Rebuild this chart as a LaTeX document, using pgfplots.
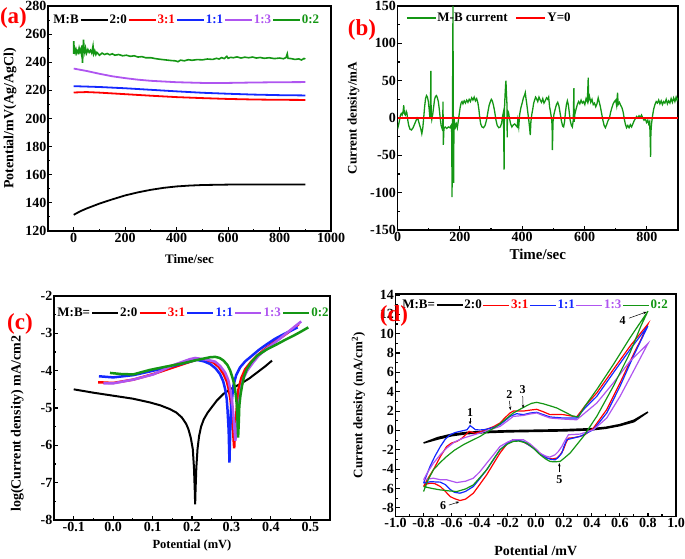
\documentclass[border=0pt]{standalone}
\usepackage{fontspec}
\setmainfont{Liberation Serif}
\usepackage{pgfplots}
\pgfplotsset{compat=1.18}
\usetikzlibrary{arrows.meta}

\definecolor{ored}{RGB}{255,0,0}
\definecolor{oblue}{RGB}{20,40,255}
\definecolor{opurple}{RGB}{175,85,240}
\definecolor{ogreen}{RGB}{20,150,20}

\newcommand{\fnt}[1]{\fontsize{#1}{#1}\selectfont\bfseries}

\pgfplotsset{
  panel/.style={
    scale only axis, anchor=south west,
    axis line style={line width=1.5pt},
    tick align=inside, xtick pos=left, ytick pos=left,
    major tick length=4pt, minor tick length=2.2pt,
    tick style={black, line width=1.1pt},
    tick label style={font=\fnt{14}, inner sep=1.5pt},
    label style={font=\fnt{14}},
    /pgf/number format/assume math mode=true,
    /pgf/number format/1000 sep={},
    legend columns=-1,
    legend style={draw=none, fill=none, anchor=west, inner sep=0pt,
      font=\fnt{13}, nodes={inner sep=1pt},
      /tikz/every even column/.append style={column sep=0pt}},
  },
  fix1/.style={/pgf/number format/.cd, fixed, fixed zerofill, precision=1, 1000 sep={}},
}

\begin{document}
\begin{tikzpicture}
\useasboundingbox (0pt,0pt) rectangle (685pt,558pt);

% ---------------- (a) open circuit potential
\begin{axis}[panel,
  at={(48pt,327pt)}, width=283pt, height=225pt,
  xmin=-100, xmax=1000, ymin=120, ymax=280,
  xtick={0,200,400,600,800,1000}, minor x tick num=1,
  ytick={120,140,...,280}, minor y tick num=1,
  xlabel={Time/sec}, ylabel={Potential/mV(Ag/AgCl)},
  xlabel style={font=\fnt{13}, at={(axis description cs:0.5,-0.124)}, anchor=center},
  ylabel style={at={(axis description cs:-0.134,0.5)}, anchor=center},
  legend image code/.code={\draw[#1] (0pt,0pt) -- (27pt,0pt);},
  legend style={at={(0.015,0.938)}},
]
\addlegendimage{empty legend}\addlegendentry{M:B}
\addplot[black, line width=1.8pt] coordinates {(0,131.5)(25,134)(50,136)(100,139.5)(150,142.5)(200,145.3)(250,147.5)(300,149.3)(350,150.7)(400,151.7)(450,152.3)(500,152.7)(600,153)(700,153.1)(800,153.1)(900,153.1)};
\addlegendentry{2:0}
\addplot[ored, line width=1.8pt] coordinates {(0,218.5)(50,218.8)(100,218.4)(200,217.3)(300,216.2)(400,215.2)(500,214.5)(600,213.9)(700,213.5)(800,213.3)(900,213.2)};
\addlegendentry{\textcolor{ored}{3:1}}
\addplot[oblue, line width=1.8pt] coordinates {(0,223)(100,222.4)(200,221.5)(300,220.4)(400,219.3)(500,218.3)(600,217.6)(700,217)(800,216.6)(900,216.4)};
\addlegendentry{\textcolor{oblue}{1:1}}
\addplot[opurple, line width=1.8pt] coordinates {(0,235.5)(50,233.8)(100,231.8)(150,230)(200,228.7)(250,227.6)(300,226.8)(400,225.8)(500,225.3)(600,225.3)(700,225.6)(800,225.8)(900,225.9)};
\addlegendentry{\textcolor{opurple}{1:3}}
\addplot[ogreen, line width=1.6pt] coordinates {(0,255)(0,246)(3,250)(6,247)(9,249)(12,246.5)(15,248)(18,247)(21,250)(24,247.5)(27,249)(30,246)(32,252)(34,239.5)(36,247)(38,256)(40,250)(43,247)(46,250)(50,246.5)(55,249)(60,247)(65,248.5)(70,246.5)(75,251.5)(78,246)(82,248)(86,245.5)(90,247)(95,246)(100,245)(110,246.5)(120,245.5)(130,246.2)(140,245.3)(150,246)(160,245)(175,245.5)(190,244.6)(205,245)(220,244.2)(235,244.6)(250,243.7)(265,244)(280,243.2)(300,243.2)(320,242.5)(340,242)(360,241.6)(380,241.2)(395,241)(405,240.4)(415,241.5)(430,241)(445,241.8)(460,241.4)(480,241.9)(500,241.7)(520,242.3)(540,242)(555,242.8)(565,242.3)(575,243.3)(585,242.6)(595,244.2)(600,242.8)(610,243.5)(620,243.2)(635,243.8)(650,243)(665,243.6)(680,243.2)(695,243.7)(710,243)(725,243.4)(740,242.8)(760,243.2)(780,242.6)(800,243)(815,242.5)(825,243.3)(830,246)(833,242.8)(845,242.6)(860,242)(875,242.4)(885,241.6)(895,242.7)(900,242.3)};
\addlegendentry{\textcolor{ogreen}{0:2}}
\end{axis}

% ---------------- (b) galvanic current
\begin{axis}[panel,
  at={(397.5pt,328pt)}, width=280.5pt, height=224pt,
  xmin=0, xmax=900, ymin=-150, ymax=150,
  xtick={0,200,400,600,800}, minor x tick num=1,
  ytick={-150,-100,...,150}, minor y tick num=1,
  xlabel={Time/sec}, ylabel={Current density/mA},
  xlabel style={font=\fnt{15}, at={(axis description cs:0.5,-0.107)}, anchor=center},
  ylabel style={font=\fnt{13}, at={(axis description cs:-0.157,0.5)}, anchor=center},
  legend image code/.code={\draw[#1] (0pt,0pt) -- (29pt,0pt);},
  legend style={at={(0.03,0.946)}, /tikz/every even column/.append style={column sep=7pt}},
]
\addplot[ogreen, line width=1.3pt] coordinates {(0,-15)(3,-10)(6,-4)(9,3)(12,6)(15,4)(18,9)(20,17)(22,6)(25,4)(28,9)(30,7)(33,-3)(36,-10)(40,-15)(45,-16)(50,-13)(55,-8)(60,-3)(63,0)(66,-2)(70,-8)(75,-15)(78,-21)(81,-14)(84,0)(87,15)(90,26)(93,30)(96,28)(99,22)(102,10)(104,0)(106,20)(107,63)(108,5)(110,-2)(113,5)(116,15)(119,25)(122,29)(125,30)(128,27)(131,22)(134,12)(137,0)(140,-10)(143,-14)(145,-10)(146,22)(147,-36)(149,-14)(153,-12)(158,-14)(163,-12)(168,-13)(172,-10)(174,-20)(175,-106)(176,-30)(177,62)(178,150)(179,-10)(180,-87)(181,-20)(183,-5)(186,-12)(189,-8)(192,-13)(195,-4)(198,5)(201,14)(204,20)(207,22)(210,19)(214,23)(218,20)(222,24)(226,21)(230,25)(234,22)(238,27)(242,24)(246,28)(250,23)(254,26)(258,20)(261,12)(264,0)(267,-8)(271,-12)(276,-13)(281,-10)(286,-2)(290,8)(294,17)(298,22)(301,25)(304,23)(308,17)(312,8)(316,-3)(320,-10)(325,-13)(330,-12)(334,-7)(337,2)(340,8)(342,-69)(343,10)(345,30)(347,45)(348,50)(349,38)(351,20)(352,-26)(353,10)(356,8)(359,0)(363,-8)(367,-12)(372,-9)(376,-8)(380,-10)(384,-12)(386,-3)(389,-12)(392,5)(396,14)(400,20)(404,27)(408,31)(410,34)(412,27)(415,18)(418,8)(421,-2)(424,-14)(426,-23)(428,-5)(431,5)(434,12)(437,20)(440,24)(443,28)(446,26)(450,22)(454,28)(458,24)(462,21)(466,26)(470,20)(474,23)(478,27)(482,25)(485,28)(488,15)(491,8)(494,0)(496,-10)(497,-43)(499,-5)(502,5)(506,12)(510,18)(514,21)(518,16)(522,6)(526,-4)(530,-11)(533,-12)(536,-5)(539,8)(542,18)(545,23)(548,18)(551,8)(554,-3)(558,-10)(561,-12)(564,-3)(566,40)(567,-5)(569,5)(573,12)(577,18)(581,22)(585,19)(589,24)(593,20)(597,22)(601,18)(605,26)(609,22)(612,54)(613,24)(616,29)(620,21)(624,25)(628,18)(632,20)(636,15)(640,19)(644,27)(647,22)(651,15)(655,6)(659,-3)(663,-10)(667,-13)(671,-9)(675,-4)(680,0)(684,8)(688,14)(692,19)(696,22)(700,24)(703,17)(706,34)(708,18)(712,21)(716,17)(720,14)(724,8)(728,-2)(731,-8)(735,-13)(739,-10)(743,-13)(747,-9)(751,-12)(755,-8)(759,-4)(763,-1)(767,2)(771,0)(775,3)(779,1)(783,4)(787,0)(791,-3)(795,-1)(799,-6)(803,-3)(806,-8)(809,-5)(811,-30)(812,-52)(813,-20)(815,-8)(818,2)(822,12)(826,18)(830,22)(834,20)(838,24)(842,19)(846,23)(850,18)(854,22)(858,20)(862,25)(866,19)(870,23)(874,20)(878,26)(882,21)(886,27)(890,22)(894,28)(897,24)(900,27)};
\addlegendentry{M-B current}
\addplot[ored, line width=1.8pt] coordinates {(0,0)(900,0)};
\addlegendentry{Y=0}
\end{axis}

% ---------------- (c) Tafel
\begin{axis}[panel,
  at={(54pt,38pt)}, width=276pt, height=224pt,
  xmin=-0.15, xmax=0.55, ymin=-8, ymax=-2,
  xtick={-0.1,0,0.1,0.2,0.3,0.4,0.5}, minor x tick num=1,
  ytick={-8,-7,...,-2}, minor y tick num=1,
  xticklabel style={fix1},
  xlabel={Potential (mV)}, ylabel={log(Current density) mA/cm2},
  xlabel style={font=\fnt{12.5}, at={(axis description cs:0.5,-0.116)}, anchor=center},
  ylabel style={font=\fnt{14}, at={(axis description cs:-0.133,0.43)}, anchor=center},
  legend image code/.code={\draw[#1] (0pt,0pt) -- (26pt,0pt);},
  legend style={at={(0.008,0.924)}},
]
\addlegendimage{empty legend}\addlegendentry{M:B=}
\addplot[black, line width=2pt] coordinates {(-0.1,-4.5)(-0.05,-4.59)(0.0,-4.67)(0.05,-4.75)(0.093,-4.85)(0.12,-4.93)(0.144,-5.03)(0.16,-5.12)(0.174,-5.25)(0.185,-5.42)(0.191,-5.57)(0.197,-5.8)(0.202,-6.1)(0.205,-6.6)(0.207,-7.2)(0.208,-7.58)(0.209,-7.2)(0.211,-6.6)(0.214,-6.1)(0.218,-5.75)(0.223,-5.5)(0.23,-5.3)(0.24,-5.12)(0.25,-4.98)(0.263,-4.8)(0.28,-4.62)(0.3,-4.48)(0.322,-4.36)(0.345,-4.21)(0.365,-4.05)(0.385,-3.89)(0.403,-3.73)};
\addlegendentry{2:0}
\addplot[ored, line width=2.5pt] coordinates {(-0.038,-4.31)(0.0,-4.33)(0.051,-4.24)(0.102,-4.09)(0.153,-3.91)(0.204,-3.73)(0.216,-3.69)(0.235,-3.71)(0.254,-3.78)(0.268,-3.9)(0.28,-4.09)(0.288,-4.28)(0.293,-4.49)(0.298,-4.8)(0.301,-5.21)(0.304,-5.6)(0.307,-6.08)(0.309,-5.6)(0.312,-5.21)(0.315,-4.8)(0.318,-4.49)(0.325,-4.2)(0.335,-3.96)(0.35,-3.76)(0.365,-3.6)(0.385,-3.42)(0.407,-3.24)(0.43,-3.08)(0.45,-2.93)(0.471,-2.75)};
\addlegendentry{\textcolor{ored}{3:1}}
\addplot[oblue, line width=2.5pt] coordinates {(-0.036,-4.15)(0.0,-4.18)(0.051,-4.12)(0.102,-4.0)(0.153,-3.87)(0.204,-3.73)(0.212,-3.71)(0.23,-3.75)(0.246,-3.82)(0.26,-3.94)(0.271,-4.09)(0.279,-4.28)(0.284,-4.49)(0.288,-4.75)(0.29,-5.03)(0.293,-5.6)(0.295,-6.46)(0.297,-5.6)(0.299,-5.03)(0.302,-4.7)(0.305,-4.4)(0.312,-4.12)(0.322,-3.91)(0.335,-3.75)(0.352,-3.6)(0.37,-3.44)(0.39,-3.29)(0.41,-3.15)(0.433,-3.02)(0.468,-2.84)};
\addlegendentry{\textcolor{oblue}{1:1}}
\addplot[opurple, line width=2.5pt] coordinates {(-0.025,-4.34)(0.0,-4.34)(0.051,-4.24)(0.102,-4.1)(0.153,-3.85)(0.195,-3.69)(0.208,-3.66)(0.22,-3.68)(0.24,-3.71)(0.259,-3.76)(0.272,-3.88)(0.284,-4.05)(0.292,-4.25)(0.297,-4.49)(0.302,-4.85)(0.305,-5.2)(0.31,-5.88)(0.313,-5.5)(0.316,-5.21)(0.32,-4.8)(0.324,-4.49)(0.33,-4.22)(0.34,-4.0)(0.355,-3.78)(0.369,-3.6)(0.39,-3.4)(0.416,-3.2)(0.437,-3.02)(0.458,-2.84)(0.477,-2.68)};
\addlegendentry{\textcolor{opurple}{1:3}}
\addplot[ogreen, line width=2.5pt] coordinates {(-0.008,-4.06)(0.02,-4.09)(0.051,-4.1)(0.093,-3.98)(0.13,-3.9)(0.178,-3.8)(0.21,-3.72)(0.246,-3.64)(0.259,-3.63)(0.27,-3.66)(0.28,-3.73)(0.29,-3.85)(0.297,-4.0)(0.303,-4.2)(0.308,-4.4)(0.311,-4.65)(0.314,-4.94)(0.317,-5.79)(0.319,-5.3)(0.32,-4.94)(0.323,-4.65)(0.327,-4.4)(0.332,-4.15)(0.339,-3.96)(0.35,-3.78)(0.365,-3.6)(0.39,-3.43)(0.416,-3.29)(0.437,-3.17)(0.458,-3.06)(0.477,-2.95)(0.495,-2.84)};
\addlegendentry{\textcolor{ogreen}{0:2}}
\end{axis}

% ---------------- (d) cyclic voltammetry
\begin{axis}[panel,
  at={(395.5pt,41.5pt)}, width=280.5pt, height=222.5pt,
  xmin=-1, xmax=1, ymin=-8.9, ymax=14.1,
  xtick={-1,-0.8,-0.6,-0.4,-0.2,0,0.2,0.4,0.6,0.8,1}, minor x tick num=1,
  ytick={-8,-6,...,14}, minor y tick num=1,
  xticklabel style={fix1},
  xlabel={Potential /mV}, ylabel={Current density (mA/cm$^{\mathbf{2}}$)},
  xlabel style={at={(axis description cs:0.5,-0.152)}, anchor=center},
  ylabel style={font=\fnt{13}, at={(axis description cs:-0.132,0.5)}, anchor=center},
  legend image code/.code={\draw[#1] (0pt,0pt) -- (26pt,0pt);},
  legend style={at={(0.02,0.95)}},
]
\addlegendimage{empty legend}\addlegendentry{M:B=}
\addplot[black, line width=1.5pt] coordinates {(-0.8,-1.3)(-0.7,-0.75)(-0.6,-0.4)(-0.5,-0.22)(-0.4,-0.12)(-0.2,-0.03)(0,0.02)(0.2,0.07)(0.4,0.18)(0.5,0.32)(0.6,0.6)(0.7,1.05)(0.8,1.9)(0.7,0.9)(0.6,0.5)(0.5,0.22)(0.4,0.06)(0.2,-0.05)(0,-0.1)(-0.2,-0.15)(-0.4,-0.25)(-0.5,-0.35)(-0.6,-0.55)(-0.7,-0.9)(-0.8,-1.3)};
\addlegendentry{2:0}
\addplot[ored, line width=1.2pt] coordinates {(-0.8,-5.8)(-0.77,-5.0)(-0.73,-4.07)(-0.68,-2.7)(-0.635,-1.66)(-0.6,-1.3)(-0.563,-1.14)(-0.53,-0.85)(-0.5,-0.45)(-0.476,-0.1)(-0.455,-0.2)(-0.43,-0.3)(-0.4,-0.15)(-0.37,0.0)(-0.3,0.4)(-0.255,0.76)(-0.22,1.3)(-0.183,1.8)(-0.16,2.0)(-0.136,2.0)(-0.088,2.0)(-0.04,2.1)(0.007,2.18)(0.05,1.95)(0.102,1.63)(0.15,1.65)(0.197,1.63)(0.25,1.5)(0.292,1.4)(0.35,2.5)(0.435,3.87)(0.553,6.29)(0.672,8.7)(0.8,11.0)(0.75,9.4)(0.696,7.84)(0.601,4.91)(0.506,2.15)(0.411,0.24)(0.35,-0.45)(0.316,-0.62)(0.27,-0.75)(0.233,-0.8)(0.215,-1.3)(0.197,-2.0)(0.175,-2.5)(0.15,-2.86)(0.12,-2.95)(0.079,-2.86)(0.04,-2.5)(0.0,-1.95)(-0.05,-1.5)(-0.088,-1.2)(-0.12,-1.02)(-0.16,-0.96)(-0.2,-1.3)(-0.255,-2.34)(-0.3,-3.4)(-0.35,-4.59)(-0.4,-5.6)(-0.445,-6.49)(-0.5,-7.1)(-0.54,-7.25)(-0.58,-7.05)(-0.61,-6.84)(-0.645,-6.3)(-0.68,-5.8)(-0.72,-5.5)(-0.75,-5.45)(-0.78,-5.55)(-0.8,-5.8)};
\addlegendentry{\textcolor{ored}{3:1}}
\addplot[oblue, line width=1.2pt] coordinates {(-0.8,-5.45)(-0.78,-4.7)(-0.754,-3.73)(-0.72,-2.7)(-0.68,-1.66)(-0.645,-0.9)(-0.61,-0.45)(-0.575,-0.22)(-0.54,-0.1)(-0.49,0.07)(-0.468,0.49)(-0.45,0.3)(-0.43,0.07)(-0.4,0.05)(-0.37,0.07)(-0.3,0.3)(-0.255,0.59)(-0.22,1.0)(-0.183,1.45)(-0.136,1.73)(-0.088,1.63)(-0.04,1.8)(0.007,1.87)(0.05,1.65)(0.102,1.39)(0.197,1.28)(0.292,1.28)(0.35,2.3)(0.435,3.52)(0.553,5.95)(0.672,8.36)(0.8,10.8)(0.75,9.3)(0.696,7.67)(0.601,4.56)(0.506,1.8)(0.411,0.07)(0.316,-0.62)(0.221,-0.96)(0.2,-1.7)(0.186,-2.34)(0.16,-2.8)(0.138,-3.04)(0.11,-3.0)(0.079,-2.86)(0.04,-2.5)(0.007,-2.1)(-0.04,-1.6)(-0.088,-1.14)(-0.16,-0.96)(-0.2,-1.3)(-0.255,-2.0)(-0.3,-3.0)(-0.35,-4.07)(-0.4,-5.0)(-0.445,-5.8)(-0.5,-6.3)(-0.54,-6.49)(-0.58,-6.4)(-0.61,-6.1)(-0.645,-5.6)(-0.68,-5.35)(-0.75,-5.3)(-0.8,-5.45)};
\addlegendentry{\textcolor{oblue}{1:1}}
\addplot[opurple, line width=1.2pt] coordinates {(-0.8,-5.1)(-0.77,-4.3)(-0.73,-3.39)(-0.68,-2.5)(-0.635,-1.83)(-0.58,-1.2)(-0.516,-0.79)(-0.45,-0.5)(-0.397,-0.27)(-0.33,0.05)(-0.255,0.41)(-0.2,1.0)(-0.16,1.45)(-0.12,1.5)(-0.088,1.55)(-0.04,1.7)(0.007,1.8)(0.05,1.55)(0.102,1.28)(0.197,1.17)(0.292,1.1)(0.35,1.8)(0.435,2.83)(0.553,4.91)(0.672,7.15)(0.8,8.98)(0.75,7.6)(0.696,6.11)(0.601,3.52)(0.506,1.28)(0.411,0.07)(0.316,-0.38)(0.233,-0.45)(0.21,-1.0)(0.186,-1.66)(0.16,-2.2)(0.138,-2.52)(0.1,-2.76)(0.07,-2.65)(0.03,-2.35)(0.007,-2.0)(-0.04,-1.4)(-0.088,-0.96)(-0.16,-0.96)(-0.2,-1.2)(-0.255,-1.66)(-0.3,-2.5)(-0.35,-3.39)(-0.4,-4.3)(-0.445,-4.94)(-0.5,-5.25)(-0.563,-5.39)(-0.6,-5.25)(-0.635,-5.1)(-0.68,-5.1)(-0.73,-4.94)(-0.8,-5.1)};
\addlegendentry{\textcolor{opurple}{1:3}}
\addplot[ogreen, line width=1.2pt] coordinates {(-0.8,-6.32)(-0.77,-5.2)(-0.73,-4.07)(-0.68,-3.3)(-0.635,-2.69)(-0.58,-2.05)(-0.516,-1.48)(-0.45,-1.0)(-0.397,-0.62)(-0.34,-0.1)(-0.28,0.41)(-0.22,1.1)(-0.16,1.8)(-0.11,2.2)(-0.064,2.56)(-0.03,2.8)(0.007,2.9)(0.054,2.75)(0.1,2.55)(0.15,2.32)(0.221,1.8)(0.26,1.5)(0.304,1.39)(0.35,2.5)(0.435,4.22)(0.553,6.81)(0.672,9.57)(0.8,12.33)(0.75,10.8)(0.672,8.02)(0.553,4.56)(0.435,1.45)(0.34,-0.62)(0.245,-2.34)(0.2,-2.9)(0.173,-3.21)(0.13,-3.25)(0.102,-3.21)(0.07,-2.95)(0.03,-2.5)(-0.02,-1.8)(-0.064,-1.31)(-0.12,-1.1)(-0.16,-1.14)(-0.2,-1.4)(-0.255,-2.0)(-0.3,-2.95)(-0.35,-4.07)(-0.4,-4.9)(-0.445,-5.63)(-0.5,-6.05)(-0.563,-6.32)(-0.62,-6.25)(-0.68,-6.15)(-0.74,-6.0)(-0.8,-5.8)};
\addlegendentry{\textcolor{ogreen}{0:2}}
% peak markers
\begin{scope}[font=\fnt{12}, -{Stealth[length=3.5pt,width=2.5pt]}, line width=0.5pt]
\node at (axis cs:-0.468,1.85) {1};
\draw (axis cs:-0.468,1.25) -- (axis cs:-0.468,0.6);
\node at (axis cs:-0.188,3.66) {2};
\draw (axis cs:-0.188,3.05) -- (axis cs:-0.18,2.1);
\node at (axis cs:-0.093,4.18) {3};
\draw (axis cs:-0.093,3.55) -- (axis cs:-0.09,2.3);
\node at (axis cs:0.62,11.34) {4};
\draw (axis cs:0.665,11.6) -- (axis cs:0.79,12.25);
\node at (axis cs:0.168,-5.13) {5};
\draw (axis cs:0.168,-4.35) -- (axis cs:0.168,-3.35);
\node at (axis cs:-0.66,-7.82) {6};
\draw (axis cs:-0.62,-7.72) -- (axis cs:-0.545,-7.38);
\end{scope}
\end{axis}

% panel letters
\node[text=ored, font=\fnt{23}] at (13.5pt,540.5pt) {(a)};
\node[text=ored, font=\fnt{23}] at (362pt,528pt) {(b)};
\node[text=ored, font=\fnt{23}] at (20pt,234pt) {(c)};
\node[text=ored, font=\fnt{23}] at (394pt,242pt) {(d)};
\end{tikzpicture}
\end{document}
